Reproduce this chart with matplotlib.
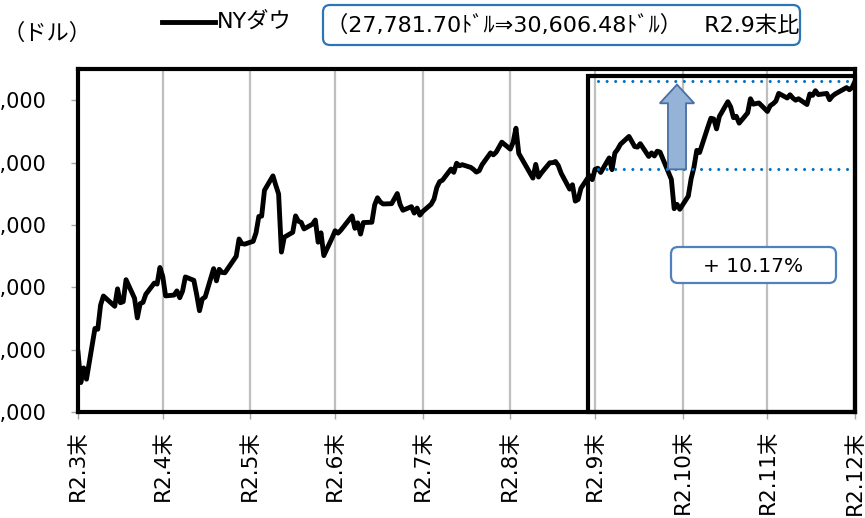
import numpy as np
import pandas as pd
import matplotlib
matplotlib.use("Agg")
import matplotlib.pyplot as plt
import matplotlib.dates as mdates
from matplotlib.patches import FancyBboxPatch, FancyArrow, Rectangle
from matplotlib.lines import Line2D
from matplotlib.ticker import FuncFormatter

plt.rcParams['font.family'] = ['DejaVu Sans', 'Noto Sans CJK JP']

# ---- data ----
dates = [
    "03-31",
    "04-01", "04-02", "04-03", "04-06", "04-07", "04-08", "04-09", "04-13", "04-14", "04-15",
    "04-16", "04-17", "04-20", "04-21", "04-22", "04-23", "04-24", "04-27", "04-28", "04-29", "04-30",
    "05-01", "05-04", "05-05", "05-06", "05-07", "05-08", "05-11", "05-12", "05-13", "05-14",
    "05-15", "05-18", "05-19", "05-20", "05-21", "05-22", "05-26", "05-27", "05-28", "05-29",
    "06-01", "06-02", "06-03", "06-04", "06-05", "06-08", "06-09", "06-10", "06-11", "06-12",
    "06-15", "06-16", "06-17", "06-18", "06-19", "06-22", "06-23", "06-24", "06-25", "06-26",
    "06-29", "06-30",
    "07-01", "07-02", "07-06", "07-07", "07-08", "07-09", "07-10", "07-13", "07-14", "07-15",
    "07-16", "07-17", "07-20", "07-21", "07-22", "07-23", "07-24", "07-27", "07-28", "07-29",
    "07-30", "07-31",
    "08-03", "08-04", "08-05", "08-06", "08-07", "08-10", "08-11", "08-12", "08-13", "08-14",
    "08-17", "08-18", "08-19", "08-20", "08-21", "08-24", "08-25", "08-26", "08-27", "08-28",
    "08-31",
    "09-01", "09-02", "09-03", "09-04", "09-08", "09-09", "09-10", "09-11", "09-14", "09-15",
    "09-16", "09-17", "09-18", "09-21", "09-22", "09-23", "09-24", "09-25", "09-28", "09-29",
    "09-30",
    "10-01", "10-02", "10-05", "10-06", "10-07", "10-08", "10-09", "10-12", "10-13", "10-14",
    "10-15", "10-16", "10-19", "10-20", "10-21", "10-22", "10-23", "10-26", "10-27", "10-28",
    "10-29", "10-30",
    "11-02", "11-03", "11-04", "11-05", "11-06", "11-09", "11-10", "11-11", "11-12", "11-13",
    "11-16", "11-17", "11-18", "11-19", "11-20", "11-23", "11-24", "11-25", "11-27", "11-30",
    "12-01", "12-02", "12-03", "12-04", "12-07", "12-08", "12-09", "12-10", "12-11", "12-14",
    "12-15", "12-16", "12-17", "12-18", "12-21", "12-22", "12-23", "12-24", "12-28", "12-29",
    "12-30", "12-31",
]
dow_close = [
    21917.16,
    20943.51, 21413.44, 21052.53, 22679.99, 22653.86, 23433.57, 23719.37, 23390.77, 23949.76, 23504.35,
    23537.68, 24242.49, 23650.44, 23018.88, 23475.82, 23515.26, 23775.27, 24133.78, 24101.55, 24633.86, 24345.72,
    23723.69, 23749.76, 23883.09, 23664.64, 23875.89, 24331.32, 24221.99, 23764.78, 23247.97, 23625.34,
    23685.42, 24597.37, 24206.86, 24575.90, 24474.12, 24465.16, 24995.11, 25548.27, 25400.64, 25383.11,
    25475.02, 25742.65, 26269.89, 26281.82, 27110.98, 27572.44, 27272.30, 26989.99, 25128.17, 25605.54,
    25763.16, 26289.98, 26119.61, 26080.10, 25871.46, 26024.96, 26156.10, 25445.94, 25745.60, 25015.55,
    25595.80, 25812.88,
    25734.97, 25827.36, 26287.03, 25890.18, 26067.28, 25706.09, 26075.30, 26085.80, 26642.59, 26870.10,
    26734.71, 26671.95, 26680.87, 26840.40, 27005.84, 26652.33, 26469.89, 26584.77, 26379.28, 26539.57,
    26313.65, 26428.32,
    26664.40, 26828.47, 27201.52, 27386.98, 27433.48, 27791.44, 27686.91, 27976.84, 27896.72, 27931.02,
    27844.91, 27778.07, 27692.88, 27739.73, 27930.33, 28308.46, 28248.44, 28331.92, 28492.27, 28653.87,
    28430.05,
    28645.66, 29100.50, 28292.73, 28133.31, 27500.89, 27940.47, 27534.58, 27665.64, 27993.33, 27995.60,
    28032.38, 27901.98, 27657.42, 27147.70, 27288.18, 26763.13, 26815.44, 27173.96, 27584.06, 27452.66,
    27781.70,
    27816.90, 27682.81, 28148.64, 27772.76, 28303.46, 28425.51, 28586.90, 28837.52, 28679.81, 28514.00,
    28494.20, 28606.31, 28195.42, 28308.79, 28210.82, 28363.66, 28335.57, 27685.38, 27463.19, 26519.95,
    26659.11, 26501.60,
    26925.05, 27480.03, 27847.66, 28390.18, 28323.40, 29157.97, 29420.92, 29397.63, 29080.17, 29479.81,
    29950.44, 29783.35, 29438.42, 29483.23, 29263.48, 29591.27, 30046.24, 29872.47, 29910.37, 29638.64,
    29823.92, 29883.79, 29969.52, 30218.26, 30069.79, 30173.88, 30068.81, 29999.26, 30046.37, 29861.55,
    30199.87, 30154.54, 30303.37, 30179.05, 30216.45, 30015.51, 30129.83, 30199.87, 30403.97, 30335.67,
    30409.56, 30606.48,
]
month_ends = ["2020-03-31", "2020-04-30", "2020-05-31", "2020-06-30", "2020-07-31",
              "2020-08-31", "2020-09-30", "2020-10-31", "2020-11-30", "2020-12-31"]
month_labels = ["R2.3末", "R2.4末", "R2.5末", "R2.6末", "R2.7末",
                "R2.8末", "R2.9末", "R2.10末", "R2.11末", "R2.12末"]
yticks = [20000, 22000, 24000, 26000, 28000, 30000]
base_value = 27781.70
latest_value = 30606.48
series_name = "NYダウ"
compare_text = "（27,781.70ﾄﾞﾙ⇒30,606.48ﾄﾞﾙ）　R2.9末比"
change_text = "+ 10.17%"
unit_text = "（ドル）"

# ---- figure ----
W, H = 865, 518
fig = plt.figure(figsize=(W / 100, H / 100), dpi=100)
ax = fig.add_axes([78 / W, 1 - 412 / H, (855 - 78) / W, (412 - 69) / H])

x = pd.to_datetime(["2020-" + d for d in dates])
xm = pd.to_datetime(month_ends)
ax.plot(x, dow_close, color='black', lw=3.5, solid_joinstyle='round', zorder=3)

ax.set_ylim(20000, 31000)
ax.set_yticks(yticks)
ax.yaxis.set_major_formatter(FuncFormatter(lambda v, p: f"{v:,.0f}"))
ax.set_xlim(xm[0], xm[-1])
ax.set_xticks(xm)
ax.set_xticklabels(month_labels, rotation=90, va='top', ha='center')
ax.grid(axis='x', color='#BFBFBF', lw=1.6, zorder=0)
ax.set_axisbelow(True)
for s in ax.spines.values():
    s.set_linewidth(3)
    s.set_color('black')
ax.tick_params(axis='y', length=5, width=1, color='#A6A6A6', pad=18, labelsize=15)
ax.tick_params(axis='x', length=5, width=1, color='#A6A6A6', pad=8, labelsize=15.5)

# highlight box from R2.9末
d0 = mdates.date2num(pd.Timestamp("2020-09-27 12:00"))
d1 = mdates.date2num(xm[-1])
ax.add_patch(Rectangle((d0, 20000), d1 - d0, 30790 - 20000, fill=False,
                       ec='black', lw=3, zorder=4, clip_on=False))

# dotted reference lines
xs = mdates.date2num(pd.Timestamp("2020-10-01"))
xe = mdates.date2num(pd.Timestamp("2020-12-30"))
for v in (base_value, latest_value):
    ax.plot([xs, xe], [v, v], color='#0070C0', lw=2.2,
            linestyle=(0, (0.01, 2.8)), dash_capstyle='round', zorder=5)

# arrow
xa = mdates.date2num(pd.Timestamp("2020-10-29"))
ax.add_patch(FancyArrow(xa, base_value, 0, 30500 - base_value, width=6.4,
                        head_width=12.2, head_length=600, length_includes_head=True,
                        fc='#95B3D7', ec='#4A6FA5', lw=1.3, zorder=6))

def box(x0, y0, x1, y1, ec):
    p = FancyBboxPatch((x0 / 100, (H - y1) / 100), (x1 - x0) / 100, (y1 - y0) / 100,
                       boxstyle='round,pad=0,rounding_size=0.07', transform=fig.dpi_scale_trans,
                       fc='white', ec=ec, lw=1.6, zorder=7)
    fig.add_artist(p)

box(671, 247, 836, 283, '#4F81BD')
fig.text(753.5 / W, 1 - 266 / H, change_text, fontsize=14.5, ha='center', va='center', zorder=8)

# top annotations
fig.text(3 / W, 1 - 33 / H, unit_text, fontsize=16, ha='left', va='center')
fig.add_artist(Line2D([162 / W, 215 / W], [1 - 22 / H] * 2, transform=fig.transFigure,
                      color='black', lw=3.5))
fig.text(217 / W, 1 - 22 / H, series_name, fontsize=16, ha='left', va='center')
box(323, 5, 800, 45, '#2E75B6')
fig.text(563 / W, 1 - 25 / H, compare_text, fontsize=16, ha='center', va='center', zorder=8)

fig.savefig("out.png", dpi=100)
